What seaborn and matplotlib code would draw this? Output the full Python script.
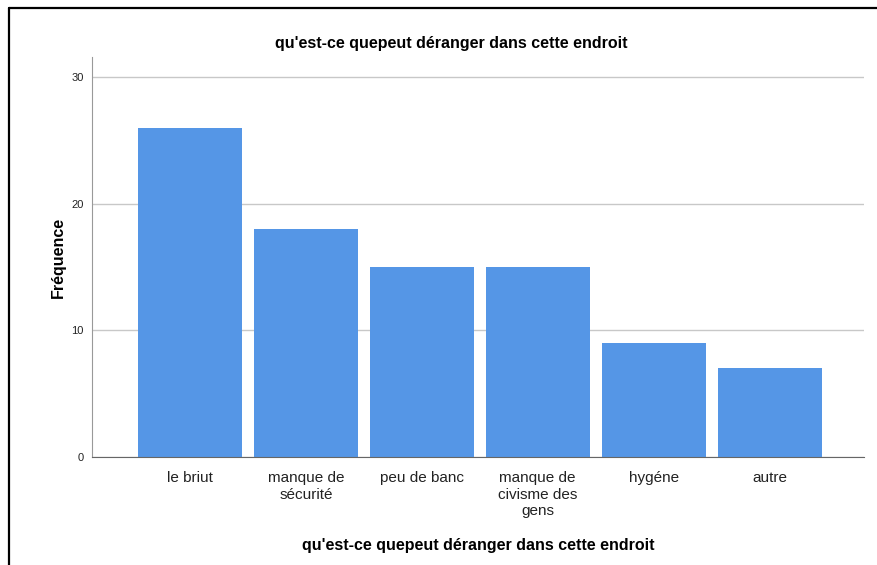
import matplotlib
matplotlib.use("Agg")
import matplotlib.pyplot as plt
import seaborn as sns
import pandas as pd
from matplotlib.lines import Line2D

categories = ["le briut", "manque de\nsécurité", "peu de banc",
              "manque de\ncivisme des\ngens", "hygéne", "autre"]
counts = [26, 18, 15, 15, 9, 7]
yticks = [0, 10, 20, 30]

title = "qu'est-ce quepeut déranger dans cette endroit"

sns.set_style("white")
plt.rcParams["font.family"] = ["Liberation Sans", "DejaVu Sans"]

df = pd.DataFrame({"cat": categories, "n": counts})

fig = plt.figure(figsize=(8.77, 5.65), dpi=100)
ax = fig.add_axes([0.1049, 0.1912, 0.8803, 0.7079])

ax.yaxis.grid(True, color="#c8c8c8", linewidth=1)
ax.set_axisbelow(True)
sns.barplot(data=df, x="cat", y="n", color="#5596e6", saturation=1,
            width=0.897, ax=ax, zorder=2, edgecolor="none", linewidth=0)

ax.set_xlim(-0.845, 5.815)
ax.set_ylim(0, 31.6)
ax.set_yticks(yticks)
ax.tick_params(axis="y", length=0, labelsize=8, pad=6, labelcolor="#222222")
ax.tick_params(axis="x", length=0, labelsize=11, pad=10, labelcolor="#222222")
for lbl in ax.get_xticklabels():
    lbl.set_linespacing(1.25)

for side in ["top", "right"]:
    ax.spines[side].set_visible(False)
ax.spines["left"].set_color("#999999")
ax.spines["bottom"].set_color("#666666")

ax.set_xlabel(title, fontsize=11.5, fontweight="bold", labelpad=14,
              color="black")
ax.set_ylabel("Fréquence", fontsize=11.5, fontweight="bold", labelpad=4,
              color="black")
fig.text(0.515, 0.923, title, ha="center", va="center", fontsize=11.5,
         fontweight="bold", color="black")

# screenshot frame on top and left
fig.add_artist(Line2D([0.0103, 1], [0.9858, 0.9858], color="black",
                      linewidth=1.6, transform=fig.transFigure))
fig.add_artist(Line2D([0.0103, 0.0103], [0, 0.9858], color="black",
                      linewidth=1.6, transform=fig.transFigure))

fig.savefig("out.png", dpi=100)
